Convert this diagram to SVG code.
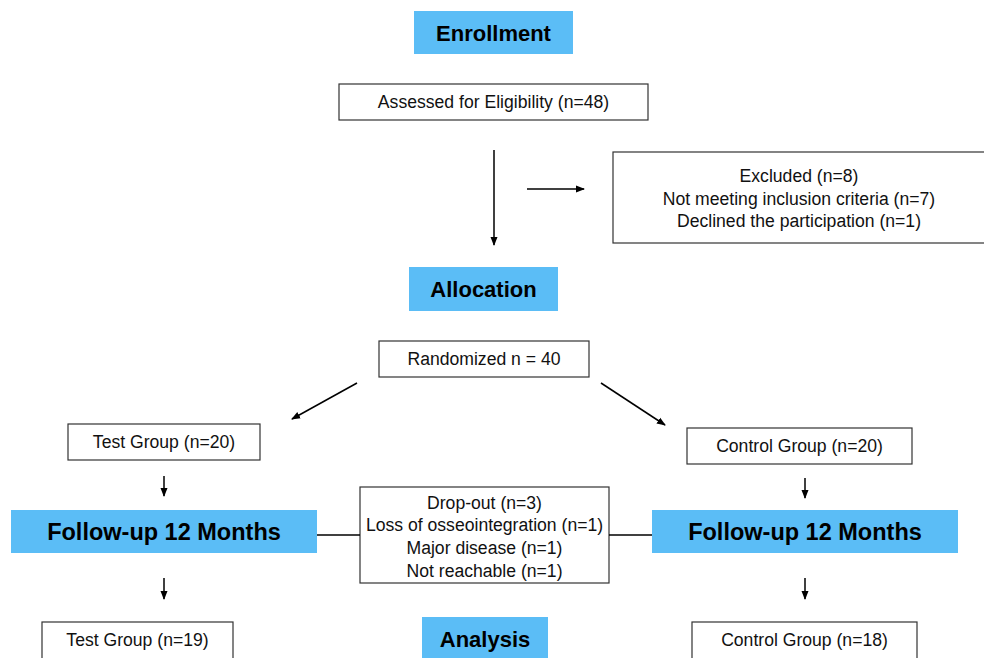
<svg xmlns="http://www.w3.org/2000/svg" width="984" height="658" viewBox="0 0 984 658">
<defs>
<marker id="ah" markerWidth="9" markerHeight="9" refX="8" refY="4.5" orient="auto" markerUnits="userSpaceOnUse">
<path d="M0,1 L9,4.5 L0,8 Z" fill="#000"/>
</marker>
<style>
.box{fill:#fff;stroke:#333;stroke-width:1.2}
.hdr{fill:#5BBDF6}
.t{font-family:"Liberation Sans",Arial,sans-serif;font-size:17.6px;fill:#111;text-anchor:middle}
.h{font-family:"Liberation Sans",Arial,sans-serif;font-weight:bold;fill:#000;text-anchor:middle}
.c{stroke:#000;stroke-width:1.5;fill:none}
</style>
</defs>
<rect width="984" height="658" fill="#fff"/>
<g id="enrollment"><rect class="hdr" x="414" y="11" width="159" height="43"/><text class="h" x="493.5" y="41" font-size="22">Enrollment</text></g>
<g id="assessed"><rect class="box" x="339" y="84" width="309" height="36"/><text class="t" x="493.5" y="108">Assessed for Eligibility (n=48)</text></g>
<g id="excluded"><rect class="box" x="613" y="152" width="380" height="91"/>
<text class="t" x="799" y="182">Excluded (n=8)</text>
<text class="t" x="799" y="205">Not meeting inclusion criteria (n=7)</text>
<text class="t" x="799" y="227">Declined the participation (n=1)</text></g>
<g id="allocation"><rect class="hdr" x="409" y="267" width="149" height="44"/><text class="h" x="483.5" y="297" font-size="22">Allocation</text></g>
<g id="randomized"><rect class="box" x="379" y="341" width="210" height="36"/><text class="t" x="484" y="365">Randomized n = 40</text></g>
<g id="test20"><rect class="box" x="68" y="424" width="192" height="36"/><text class="t" x="164" y="448">Test Group (n=20)</text></g>
<g id="control20"><rect class="box" x="687" y="428" width="225" height="36"/><text class="t" x="799.5" y="452">Control Group (n=20)</text></g>
<g id="followup-left"><rect class="hdr" x="11" y="510" width="306" height="43"/><text class="h" x="164" y="540" font-size="23.5">Follow-up 12 Months</text></g>
<g id="followup-right"><rect class="hdr" x="652" y="510" width="306" height="43"/><text class="h" x="805" y="540" font-size="23.5">Follow-up 12 Months</text></g>
<g id="dropout"><rect class="box" x="360" y="487" width="249" height="96"/>
<text class="t" x="484.5" y="509">Drop-out (n=3)</text>
<text class="t" x="484.5" y="531">Loss of osseointegration (n=1)</text>
<text class="t" x="484.5" y="554">Major disease (n=1)</text>
<text class="t" x="484.5" y="577">Not reachable (n=1)</text></g>
<g id="analysis"><rect class="hdr" x="422" y="617" width="126" height="50"/><text class="h" x="485" y="647" font-size="22">Analysis</text></g>
<g id="test19"><rect class="box" x="42" y="622" width="191" height="46"/><text class="t" x="137.5" y="646">Test Group (n=19)</text></g>
<g id="control18"><rect class="box" x="692" y="622" width="225" height="46"/><text class="t" x="804.5" y="646">Control Group (n=18)</text></g>
<g id="connectors">
<line class="c" x1="494" y1="150" x2="494" y2="245" marker-end="url(#ah)"/>
<line class="c" x1="527" y1="189" x2="584" y2="189" marker-end="url(#ah)"/>
<line class="c" x1="357" y1="383" x2="292" y2="419" marker-end="url(#ah)"/>
<line class="c" x1="601" y1="383" x2="665" y2="425" marker-end="url(#ah)"/>
<line class="c" x1="164" y1="476" x2="164" y2="496" marker-end="url(#ah)"/>
<line class="c" x1="164" y1="578" x2="164" y2="599" marker-end="url(#ah)"/>
<line class="c" x1="805" y1="478" x2="805" y2="498" marker-end="url(#ah)"/>
<line class="c" x1="805" y1="578" x2="805" y2="599" marker-end="url(#ah)"/>
<line class="c" x1="317" y1="535" x2="360" y2="535"/>
<line class="c" x1="609" y1="535" x2="652" y2="535"/>
</g>
</svg>
